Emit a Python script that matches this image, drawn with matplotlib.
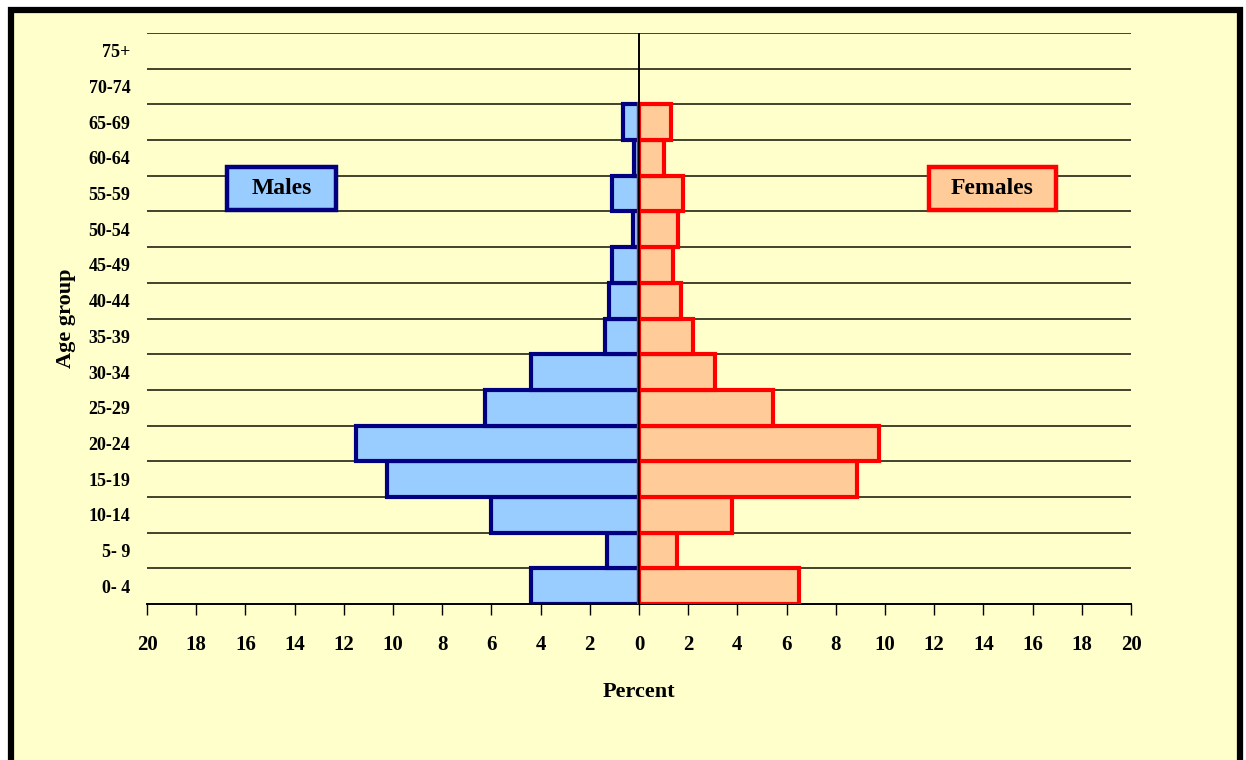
import numpy as np
import matplotlib
matplotlib.use("Agg")
import matplotlib.pyplot as plt
from matplotlib.patches import Rectangle

# ── DATA ───────────────────────────────────────────────────────────────────────
age_groups = ["0- 4", "5- 9", "10-14", "15-19", "20-24", "25-29", "30-34", "35-39",
              "40-44", "45-49", "50-54", "55-59", "60-64", "65-69", "70-74", "75+"]
males   = [4.4, 1.3, 6.0, 10.25, 11.5, 6.25, 4.4, 1.4,
           1.2, 1.1, 0.25, 1.1, 0.2, 0.65, 0.0, 0.0]
females = [6.5, 1.55, 3.8, 8.85, 9.75, 5.45, 3.1, 2.2,
           1.7, 1.4, 1.6, 1.8, 1.0, 1.3, 0.0, 0.0]
xticks = np.arange(-20, 21, 2)

BG       = "#FFFFCC"
M_FILL   = "#99CCFF"
M_EDGE   = "#000080"
F_FILL   = "#FFCC99"
F_EDGE   = "#FF0000"
SERIF    = ["Liberation Serif", "DejaVu Serif"]

plt.rcParams["font.family"] = SERIF
plt.rcParams["font.weight"] = "bold"

fig = plt.figure(figsize=(12.46, 7.60), dpi=100)
fig.patch.set_facecolor("white")

# outer frame (bottom edge runs off the picture)
frame = Rectangle((11 / 1246, -0.05), (1240 - 11) / 1246, 1.05 - 10 / 760,
                  transform=fig.transFigure, facecolor=BG, edgecolor="black",
                  linewidth=4.5, zorder=-10)
fig.patches.append(frame)

ax = fig.add_axes([147 / 1246, 1 - 604 / 760, (1131 - 147) / 1246, (604 - 33) / 760])
ax.set_facecolor("none")
ax.set_zorder(1)

y = np.arange(len(age_groups))
m = np.array(males)
f = np.array(females)
mk = m > 0
fk = f > 0

ax.barh(y[mk], -m[mk], height=1.0, color=M_FILL, edgecolor=M_EDGE,
        linewidth=3.0, zorder=2)
ax.barh(y[fk], f[fk], height=1.0, color=F_FILL, edgecolor=F_EDGE,
        linewidth=3.0, zorder=3)

# horizontal gridlines at group boundaries
for b in np.arange(-0.5, len(age_groups), 1.0)[1:]:
    ax.axhline(b, color="#222211", lw=1.2, zorder=1)
ax.axvline(0, color="black", lw=1.4, zorder=4)

ax.set_xlim(-20, 20)
ax.set_ylim(-0.5, len(age_groups) - 0.5)
ax.set_xticks(xticks)
ax.set_xticklabels([str(abs(v)) for v in xticks], fontsize=15, fontweight="bold")
ax.set_yticks(y)
ax.set_yticklabels(age_groups, fontsize=13, fontweight="bold")
ax.tick_params(axis="x", direction="out", length=8, width=1.0, pad=14, colors="black")
ax.tick_params(axis="y", length=0, pad=12)
for s in ("top", "right", "left"):
    ax.spines[s].set_visible(False)
ax.spines["bottom"].set_linewidth(1.4)

ax.set_xlabel("Percent", fontsize=16, fontweight="bold", labelpad=20)
ax.set_ylabel("Age group", fontsize=16, fontweight="bold", labelpad=9)

# legend boxes
def label_box(x0, x1, text, fill, edge):
    ax.add_patch(Rectangle((x0 / 1246, 1 - 210 / 760), (x1 - x0) / 1246, 43 / 760,
                           transform=fig.transFigure, facecolor=fill,
                           edgecolor=edge, linewidth=3.2, zorder=5, clip_on=False))
    ax.text((x0 + x1) / 2 / 1246, 1 - 189 / 760, text, ha="center", va="center",
            transform=fig.transFigure, fontsize=17, fontweight="bold", zorder=6)

label_box(227, 336, "Males", M_FILL, M_EDGE)
label_box(929, 1056, "Females", F_FILL, F_EDGE)

fig.savefig("out.png", dpi=100, facecolor=fig.get_facecolor())
